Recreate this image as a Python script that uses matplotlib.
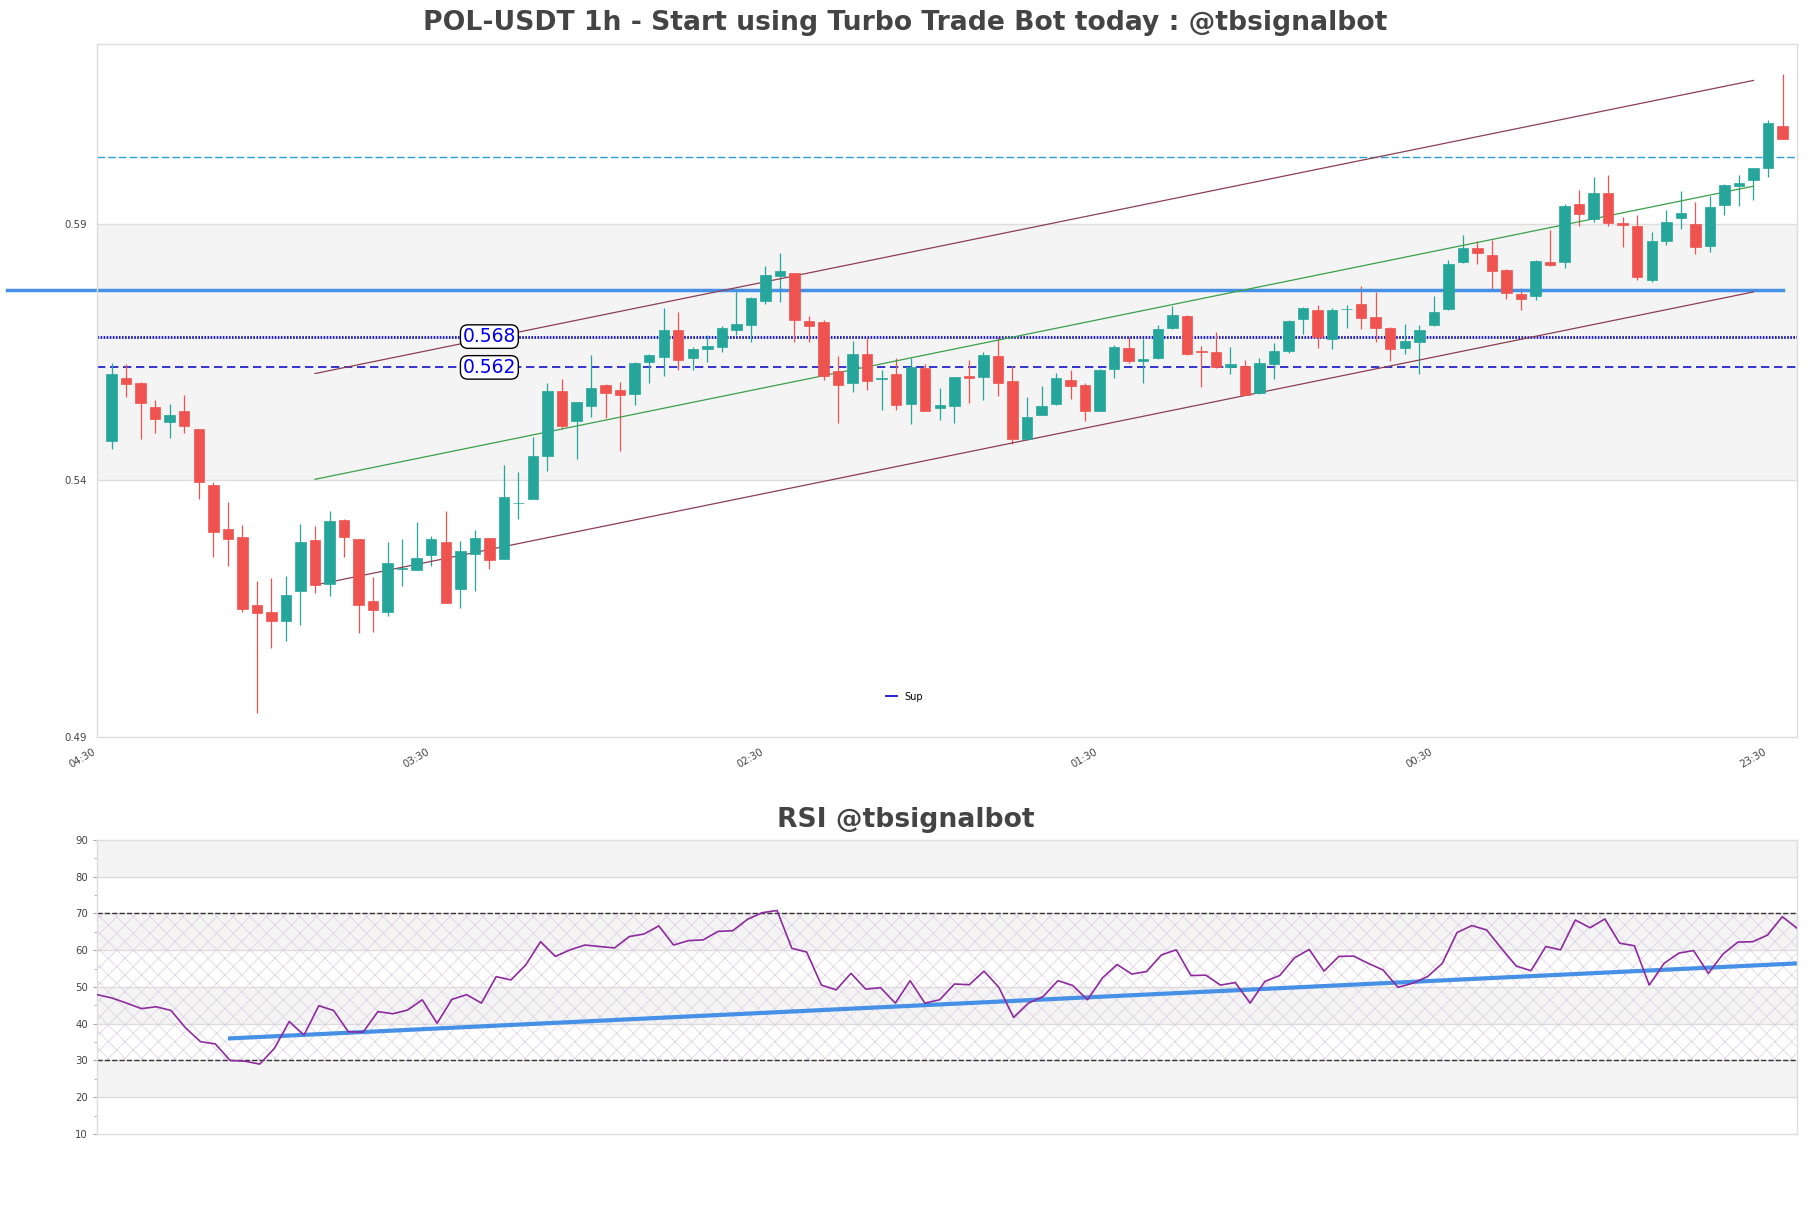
import matplotlib
matplotlib.use('Agg')
import matplotlib.pyplot as plt
from matplotlib.lines import Line2D
import numpy as np

plt.rcParams['hatch.linewidth'] = 0.5

# hourly candles, oldest first
opens = [0.5476, 0.5599, 0.5590, 0.5543, 0.5513, 0.5535, 0.5500, 0.5390, 0.5305, 0.5289,
         0.5158, 0.5143, 0.5126, 0.5185, 0.5284, 0.5199, 0.5323, 0.5285, 0.5164, 0.5144,
         0.5228, 0.5225, 0.5255, 0.5280, 0.5189, 0.5257, 0.5288, 0.5247, 0.5355, 0.5363,
         0.5448, 0.5574, 0.5516, 0.5544, 0.5586, 0.5576, 0.5569, 0.5630, 0.5641, 0.5693,
         0.5638, 0.5655, 0.5659, 0.5692, 0.5702, 0.5750, 0.5798, 0.5803, 0.5711, 0.5709,
         0.5612, 0.5589, 0.5647, 0.5597, 0.5608, 0.5548, 0.5619, 0.5540, 0.5544, 0.5604,
         0.5601, 0.5643, 0.5594, 0.5481, 0.5528, 0.5548, 0.5596, 0.5586, 0.5536, 0.5616,
         0.5658, 0.5632, 0.5638, 0.5696, 0.5721, 0.5652, 0.5649, 0.5620, 0.5623, 0.5570,
         0.5626, 0.5651, 0.5714, 0.5731, 0.5675, 0.5733, 0.5744, 0.5719, 0.5697, 0.5657,
         0.5669, 0.5702, 0.5733, 0.5825, 0.5853, 0.5838, 0.5810, 0.5762, 0.5760, 0.5826,
         0.5825, 0.5939, 0.5909, 0.5959, 0.5902, 0.5896, 0.5791, 0.5866, 0.5911, 0.5900,
         0.5856, 0.5936, 0.5973, 0.5985, 0.6008, 0.6091]
highs = [0.5628, 0.5627, 0.5592, 0.5557, 0.5549, 0.5567, 0.5500, 0.5396, 0.5357, 0.5313,
         0.5204, 0.5210, 0.5214, 0.5315, 0.5311, 0.5340, 0.5325, 0.5285, 0.5212, 0.5279,
         0.5286, 0.5319, 0.5292, 0.5340, 0.5281, 0.5303, 0.5288, 0.5430, 0.5416, 0.5484,
         0.5589, 0.5597, 0.5553, 0.5645, 0.5587, 0.5591, 0.5630, 0.5646, 0.5736, 0.5727,
         0.5660, 0.5684, 0.5701, 0.5772, 0.5757, 0.5818, 0.5842, 0.5803, 0.5721, 0.5713,
         0.5643, 0.5671, 0.5677, 0.5614, 0.5638, 0.5638, 0.5627, 0.5580, 0.5602, 0.5635,
         0.5650, 0.5679, 0.5622, 0.5563, 0.5584, 0.5609, 0.5614, 0.5589, 0.5617, 0.5664,
         0.5679, 0.5676, 0.5703, 0.5740, 0.5723, 0.5662, 0.5689, 0.5660, 0.5634, 0.5638,
         0.5667, 0.5712, 0.5737, 0.5742, 0.5736, 0.5742, 0.5779, 0.5766, 0.5698, 0.5705,
         0.5703, 0.5760, 0.5829, 0.5877, 0.5866, 0.5869, 0.5811, 0.5775, 0.5829, 0.5888,
         0.5939, 0.5965, 0.5991, 0.5994, 0.5913, 0.5916, 0.5884, 0.5926, 0.5963, 0.5942,
         0.5954, 0.5977, 0.5995, 0.6008, 0.6101, 0.6191]
lows = [0.5461, 0.5562, 0.5481, 0.5493, 0.5483, 0.5493, 0.5363, 0.5251, 0.5234, 0.5144,
        0.4947, 0.5074, 0.5087, 0.5119, 0.5180, 0.5175, 0.5251, 0.5102, 0.5104, 0.5136,
        0.5195, 0.5225, 0.5234, 0.5162, 0.5152, 0.5185, 0.5227, 0.5247, 0.5324, 0.5363,
        0.5419, 0.5500, 0.5442, 0.5524, 0.5522, 0.5458, 0.5546, 0.5589, 0.5604, 0.5614,
        0.5614, 0.5630, 0.5649, 0.5684, 0.5669, 0.5744, 0.5747, 0.5669, 0.5669, 0.5596,
        0.5511, 0.5573, 0.5576, 0.5537, 0.5537, 0.5509, 0.5536, 0.5517, 0.5511, 0.5550,
        0.5556, 0.5565, 0.5471, 0.5479, 0.5527, 0.5546, 0.5558, 0.5515, 0.5535, 0.5599,
        0.5628, 0.5589, 0.5637, 0.5695, 0.5645, 0.5581, 0.5619, 0.5607, 0.5566, 0.5569,
        0.5597, 0.5648, 0.5686, 0.5657, 0.5656, 0.5696, 0.5694, 0.5669, 0.5632, 0.5647,
        0.5607, 0.5701, 0.5731, 0.5824, 0.5821, 0.5769, 0.5753, 0.5732, 0.5752, 0.5818,
        0.5814, 0.5895, 0.5903, 0.5895, 0.5854, 0.5790, 0.5786, 0.5858, 0.5890, 0.5840,
        0.5845, 0.5916, 0.5934, 0.5946, 0.5991, 0.6064]
closes = [0.5608, 0.5587, 0.5550, 0.5519, 0.5527, 0.5505, 0.5396, 0.5300, 0.5286, 0.5149,
          0.5142, 0.5126, 0.5176, 0.5280, 0.5196, 0.5321, 0.5290, 0.5158, 0.5148, 0.5239,
          0.5230, 0.5249, 0.5286, 0.5162, 0.5262, 0.5288, 0.5245, 0.5368, 0.5356, 0.5448,
          0.5574, 0.5505, 0.5552, 0.5580, 0.5571, 0.5567, 0.5629, 0.5645, 0.5693, 0.5634,
          0.5656, 0.5662, 0.5697, 0.5705, 0.5756, 0.5799, 0.5807, 0.5712, 0.5700, 0.5604,
          0.5585, 0.5647, 0.5593, 0.5600, 0.5546, 0.5621, 0.5536, 0.5547, 0.5602, 0.5599,
          0.5645, 0.5589, 0.5481, 0.5524, 0.5545, 0.5600, 0.5583, 0.5536, 0.5614, 0.5660,
          0.5632, 0.5637, 0.5695, 0.5723, 0.5647, 0.5649, 0.5620, 0.5627, 0.5567, 0.5629,
          0.5652, 0.5711, 0.5736, 0.5680, 0.5731, 0.5734, 0.5716, 0.5696, 0.5655, 0.5671,
          0.5693, 0.5727, 0.5822, 0.5853, 0.5843, 0.5807, 0.5765, 0.5753, 0.5828, 0.5820,
          0.5935, 0.5918, 0.5959, 0.5901, 0.5897, 0.5796, 0.5867, 0.5904, 0.5920, 0.5854,
          0.5933, 0.5976, 0.5980, 0.6008, 0.6097, 0.6065]

rsi = [47.9, 47.0, 45.6, 44.1, 44.6, 43.6, 38.8, 35.1, 34.5, 30.0,
       29.8, 29.0, 33.3, 40.6, 36.9, 44.9, 43.6, 37.8, 37.7, 43.3,
       42.7, 43.7, 46.5, 40.1, 46.6, 47.9, 45.6, 52.8, 51.9, 56.0,
       62.3, 58.3, 60.1, 61.4, 61.0, 60.6, 63.7, 64.4, 66.6, 61.4,
       62.6, 62.8, 65.1, 65.3, 68.4, 70.2, 70.8, 60.5, 59.5, 50.5,
       49.2, 53.7, 49.4, 49.8, 45.6, 51.7, 45.6, 46.5, 50.8, 50.6,
       54.3, 49.9, 41.7, 45.6, 47.4, 51.7, 50.4, 46.5, 52.4, 56.1,
       53.5, 54.2, 58.7, 60.1, 53.1, 53.2, 50.5, 51.2, 45.6, 51.5,
       53.1, 57.9, 60.2, 54.3, 58.3, 58.4, 56.4, 54.6, 49.9, 51.0,
       52.8, 56.4, 64.8, 66.7, 65.5, 60.5, 55.7, 54.4, 61.0, 60.1,
       68.2, 66.1, 68.5, 61.9, 61.2, 50.5, 56.4, 59.2, 59.9, 53.7,
       59.0, 62.2, 62.3, 64.1, 69.1, 66.0]

xlabels = ['04:30', '03:30', '02:30', '01:30', '00:30', '23:30']
sup_levels = [0.568, 0.562]
res_level = 0.603
pivot_level = 0.5771
channel_x = [14, 113]
channel_mid = [0.5402, 0.5973]
channel_half = 0.0206
rsi_trend_x = [9, 115]
rsi_trend = [36.0, 56.4]

title = 'POL-USDT 1h - Start using Turbo Trade Bot today : @tbsignalbot'
txt_col = '#444444'
grid_col = '#dddddd'
band_col = '#f4f4f4'
up_col = '#26a69a'
dn_col = '#ef5350'
sup_col = '#1414c8'

fig = plt.figure(figsize=(18.11, 12.08), dpi=100)
ax = fig.add_axes([0.0536, 0.3899, 0.9387, 0.5737])
ax2 = fig.add_axes([0.0536, 0.0613, 0.9387, 0.2434])

# ---- price panel
x = np.arange(len(opens))
o = np.array(opens)
c = np.array(closes)
cols = [up_col if cc >= oo else dn_col for oo, cc in zip(o, c)]

ax.axhspan(0.54, 0.59, color=band_col, zorder=0, lw=0)
for yv in [0.54, 0.59]:
    ax.axhline(yv, color=grid_col, lw=1, zorder=0.5)

ax.vlines(x, lows, highs, color=cols, lw=0.9, zorder=2)
ax.bar(x, c - o, bottom=o, width=0.72, color=cols, edgecolor=cols, lw=0.5, zorder=3)

ax.axhline(res_level, color='#2a9fd6', lw=1, dashes=(5.5, 2.2), zorder=1.5)
ax.plot([-7.2, x[-1]], [pivot_level, pivot_level], color='#4691e6', lw=2.5,
        clip_on=False, zorder=2.5)
ax.axhline(sup_levels[0], color=sup_col, lw=2, dashes=(0.6, 0.5), zorder=1.5)
ax.axhline(sup_levels[1], color=sup_col, lw=1.2, dashes=(5, 2.8), zorder=1.5)

mid = np.array(channel_mid)
ax.plot(channel_x, mid + channel_half, color='#8b3f55', lw=0.9, zorder=2.6)
ax.plot(channel_x, mid, color='#3aa04a', lw=0.9, zorder=2.6)
ax.plot(channel_x, mid - channel_half, color='#8b3f55', lw=0.9, zorder=2.6)

for lvl in sup_levels:
    ax.text(26, lvl, f'{lvl:.3f}', color='#0000ee', fontsize=13.5, ha='center', va='center',
            zorder=5, bbox=dict(boxstyle='round,pad=0.12,rounding_size=0.4',
                                fc='white', ec='black', lw=1))

ax.legend(handles=[Line2D([0], [0], color=sup_col, lw=1.3)], labels=['Sup'],
          loc='center', bbox_to_anchor=(0.475, 0.058), frameon=False,
          fontsize=7, handlelength=1.1)

ax.set_xlim(-1, 116)
ax.set_ylim(0.49, 0.625)
ax.set_yticks([0.49, 0.54, 0.59])
ax.set_yticklabels(['0.49', '0.54', '0.59'])
ax.set_xticks([-1, 22, 45, 68, 91, 114])
ax.set_xticklabels(xlabels, rotation=30, ha='right')
ax.tick_params(axis='both', length=3.5, color='none', labelsize=7.3, labelcolor=txt_col)

# ---- RSI panel
xr = np.arange(len(rsi))
for lo in [20, 40, 60, 80]:
    ax2.axhspan(lo, lo + 10, color=band_col, zorder=0, lw=0)
for yv in range(20, 90, 10):
    ax2.axhline(yv, color=grid_col, lw=1, zorder=0.5)
ax2.fill_between([xr[0], xr[-1]], 30, 70, facecolor='none', edgecolor='#dccde3',
                 hatch='xx', lw=0, zorder=0.8)
ax2.axhline(30, color='#333333', lw=1, ls='--', zorder=1)
ax2.axhline(70, color='#333333', lw=1, ls='--', zorder=1)
ax2.plot(rsi_trend_x, rsi_trend, color='#4691e6', lw=3, zorder=2)
ax2.plot(xr, rsi, color='#8e2a9e', lw=1.2, zorder=3)

ax2.set_xlim(xr[0], xr[-1])
ax2.set_ylim(10, 90)
ax2.set_yticks(range(10, 91, 10))
ax2.set_yticks(range(15, 90, 10), minor=True)
ax2.set_xticks([])
ax2.tick_params(axis='y', which='major', length=3, color='#aaaaaa', labelsize=7.3,
                labelcolor=txt_col)
ax2.tick_params(axis='y', which='minor', length=2, color='#aaaaaa')

for a in (ax, ax2):
    for sp in a.spines.values():
        sp.set_color(grid_col)
        sp.set_linewidth(1)

fig.text(0.5, 1 - 23 / 1208, title, ha='center', va='center', fontsize=19.2,
         fontweight='bold', color=txt_col)
fig.text(0.5, 1 - 820 / 1208, 'RSI @tbsignalbot', ha='center', va='center', fontsize=19.2,
         fontweight='bold', color=txt_col)

fig.savefig('out.png', dpi=100)
